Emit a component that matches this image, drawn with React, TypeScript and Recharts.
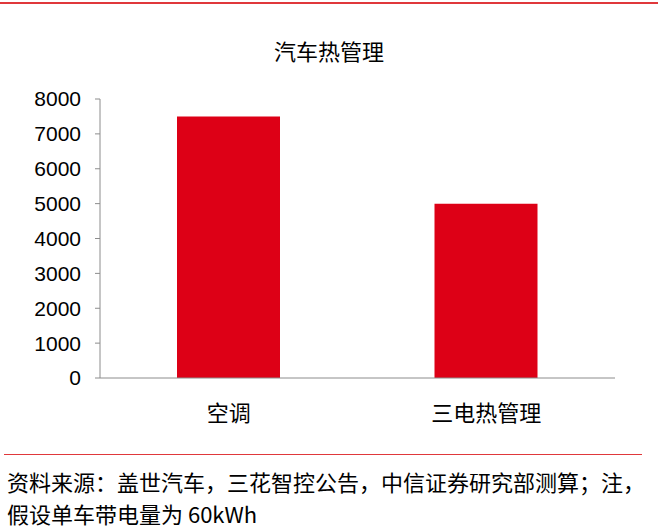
import React from "react";
import { BarChart, Bar, XAxis, YAxis } from "recharts";

const categories = ["空调", "三电热管理"];
const values = [7500, 5000];
const yTicks = [0, 1000, 2000, 3000, 4000, 5000, 6000, 7000, 8000];
const boundaryTicks = [0, 1, 2];
const title = "汽车热管理";
const sourceLines = [
  "资料来源：盖世汽车，三花智控公告，中信证券研究部测算；注，",
  "假设单车带电量为 60kWh",
];

const data = categories.map((c, i) => ({ name: c, value: values[i] }));

const CJK = '"Noto Sans CJK SC", "Noto Sans", sans-serif';
const NUM = '"Liberation Sans", Arial, sans-serif';

export default function App() {
  return (
    <div
      style={{
        position: "absolute",
        left: 0,
        top: 0,
        width: 658,
        height: 530,
        background: "#fff",
        overflow: "hidden",
      }}
    >
      <div
        style={{
          position: "absolute",
          left: 0,
          top: 2,
          width: 658,
          height: 2,
          background: "#E0383B",
        }}
      />
      <div
        style={{
          position: "absolute",
          left: 0,
          width: 658,
          top: 35,
          textAlign: "center",
          fontFamily: CJK,
          fontSize: 22,
          color: "#000",
          lineHeight: "30px",
        }}
      >
        {title}
      </div>
      <div style={{ position: "absolute", left: 0, top: 0 }}>
        <BarChart
          width={658}
          height={440}
          data={data}
          margin={{ top: 99, right: 43, left: 0, bottom: 21 }}
        >
          <XAxis
            dataKey="name"
            tickLine={false}
            axisLine={{ stroke: "#8c8c8c" }}
            tick={{ fill: "#000", fontFamily: CJK, fontSize: 22 }}
            tickMargin={21}
            height={40}
          />
          <XAxis
            xAxisId="b"
            type="number"
            domain={[0, 2]}
            ticks={boundaryTicks}
            tick={false}
            axisLine={false}
            tickLine={{ stroke: "#8c8c8c" }}
            tickSize={5}
            height={1}
            hide={false}
          />
          <YAxis
            width={100}
            domain={[0, 8000]}
            ticks={yTicks}
            interval={0}
            axisLine={{ stroke: "#8c8c8c" }}
            tickLine={{ stroke: "#8c8c8c" }}
            tickSize={5}
            tickMargin={14}
            tick={{ fill: "#000", fontFamily: NUM, fontSize: 21 }}
          />
          <Bar
            dataKey="value"
            fill="#DD0016"
            barSize={103}
            isAnimationActive={false}
          />
        </BarChart>
      </div>
      <div
        style={{
          position: "absolute",
          left: 4,
          top: 454,
          width: 638,
          height: 1,
          background: "#E0383B",
        }}
      />
      <div
        style={{
          position: "absolute",
          left: 7,
          top: 465,
          fontFamily: CJK,
          fontSize: 22,
          lineHeight: "32px",
          color: "#000",
          whiteSpace: "nowrap",
        }}
      >
        {sourceLines.map((l, i) => (
          <div key={i}>{l}</div>
        ))}
      </div>
    </div>
  );
}
